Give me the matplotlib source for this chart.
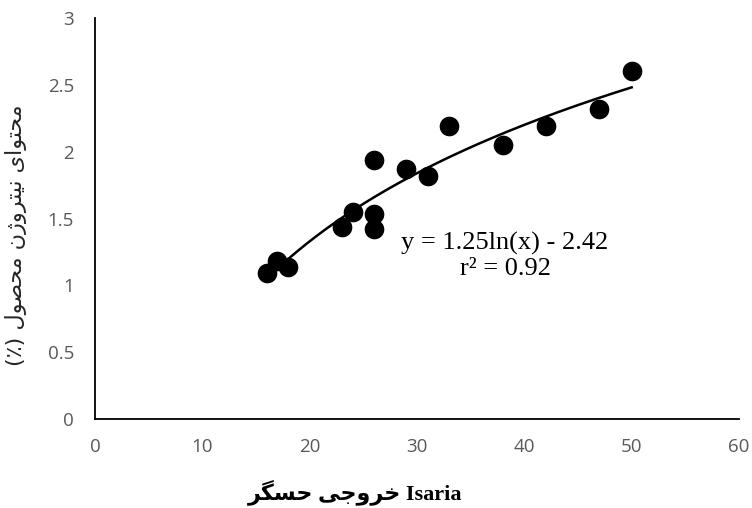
import numpy as np
import matplotlib
matplotlib.use("Agg")
import matplotlib.pyplot as plt

# data
sensor = [16, 17, 18, 23, 24, 26, 26, 26, 29, 31, 33, 38, 42, 47, 50]
nitrogen = [1.09, 1.18, 1.14, 1.44, 1.55, 1.53, 1.42, 1.94, 1.87, 1.82, 2.19, 2.05, 2.19, 2.32, 2.60]
x_ticks = [0, 10, 20, 30, 40, 50, 60]
y_ticks = [0, 0.5, 1, 1.5, 2, 2.5, 3]
y_tick_labels = ['0', '0.5', '1', '1.5', '2', '2.5', '3']
eq_text = 'y = 1.25ln(x) - 2.42\nr\u00b2 = 0.92'
xlabel_fa = 'خروجی حسگر'
xlabel_en = 'Isaria'
ylabel_fa = 'محتوای نیتروژن محصول'

# matplotlib has no arabic shaping, so pick presentation forms by hand
# (isolated, final, initial, medial)
FORMS = {
    'ا': ('\uFE8D', '\uFE8E', None, None),
    'ت': ('\uFE95', '\uFE96', '\uFE97', '\uFE98'),
    'ج': ('\uFE9D', '\uFE9E', '\uFE9F', '\uFEA0'),
    'ح': ('\uFEA1', '\uFEA2', '\uFEA3', '\uFEA4'),
    'خ': ('\uFEA5', '\uFEA6', '\uFEA7', '\uFEA8'),
    'ر': ('\uFEAD', '\uFEAE', None, None),
    'ژ': ('\uFB8A', '\uFB8B', None, None),
    'س': ('\uFEB1', '\uFEB2', '\uFEB3', '\uFEB4'),
    'ص': ('\uFEB9', '\uFEBA', '\uFEBB', '\uFEBC'),
    'ل': ('\uFEDD', '\uFEDE', '\uFEDF', '\uFEE0'),
    'م': ('\uFEE1', '\uFEE2', '\uFEE3', '\uFEE4'),
    'ن': ('\uFEE5', '\uFEE6', '\uFEE7', '\uFEE8'),
    'و': ('\uFEED', '\uFEEE', None, None),
    'ی': ('\uFBFC', '\uFBFD', '\uFBFE', '\uFBFF'),
    'گ': ('\uFB92', '\uFB93', '\uFB94', '\uFB95'),
}


def shape_word(w):
    out = []
    for i, c in enumerate(w):
        if c not in FORMS:
            out.append(c)
            continue
        prev_j = i > 0 and w[i - 1] in FORMS and FORMS[w[i - 1]][2] is not None
        next_j = (i < len(w) - 1 and FORMS[c][2] is not None and w[i + 1] in FORMS)
        if prev_j and next_j:
            out.append(FORMS[c][3])
        elif prev_j:
            out.append(FORMS[c][1])
        elif next_j:
            out.append(FORMS[c][2])
        else:
            out.append(FORMS[c][0])
    return ''.join(out)


def rtl(text):
    words = [shape_word(w)[::-1] for w in text.split(' ')]
    return ' '.join(reversed(words))


fig = plt.figure(figsize=(7.52, 5.08), dpi=100)
ax = fig.add_axes([95 / 752, 89 / 508, 644 / 752, 401 / 508])

ax.scatter(sensor, nitrogen, s=200, color='black', zorder=3, linewidths=0)

# log trendline over the data range
a, b = np.polyfit(np.log(sensor), nitrogen, 1)
xs = np.linspace(min(sensor), max(sensor), 200)
ax.plot(xs, a * np.log(xs) + b, color='black', lw=1.8, zorder=2)

ax.text(38.2, 1.22, eq_text, fontsize=19, family='Liberation Serif',
        ha='center', va='center', linespacing=1.15)

ax.set_xlim(0, 60)
ax.set_ylim(0, 3)
ax.set_xticks(x_ticks)
ax.set_yticks(y_ticks)
ax.set_yticklabels(y_tick_labels)
for lab in ax.get_xticklabels() + ax.get_yticklabels():
    lab.set_family('Open Sans')
    lab.set_fontsize(13.5)
    lab.set_color('#595959')
ax.tick_params(axis='both', length=0)
ax.tick_params(axis='y', pad=15)
ax.tick_params(axis='x', pad=14)

for s in ['top', 'right']:
    ax.spines[s].set_visible(False)
for s in ['left', 'bottom']:
    ax.spines[s].set_linewidth(1.3)
    ax.spines[s].set_color('black')

fig.text(16 / 752, 1 - 235 / 508, '(\u066A) ' + rtl(ylabel_fa), rotation=90,
         ha='center', va='center', fontsize=16, color='#262626',
         family=['DejaVu Sans'])
fig.text(355 / 752, 1 - 492 / 508, rtl(xlabel_fa) + ' ' + xlabel_en,
         ha='center', va='center', fontsize=16, fontweight='bold',
         family=['Liberation Serif', 'DejaVu Sans'])

fig.savefig('out.png', dpi=100)
